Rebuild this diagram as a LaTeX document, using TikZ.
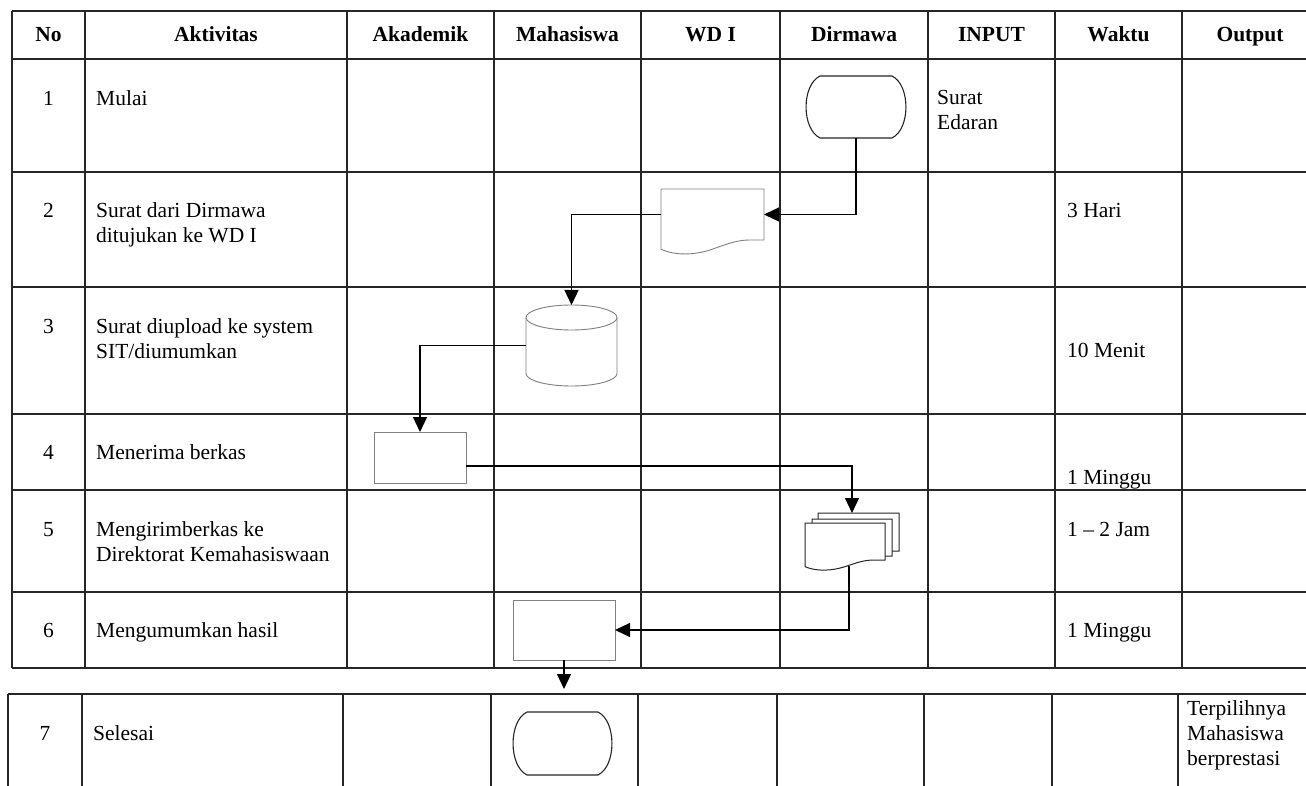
\documentclass[tikz,border=0pt]{standalone}
\usepackage{fontspec}
\setmainfont{Liberation Serif}
\usetikzlibrary{arrows.meta}
\newcommand\docshape[5][]{%
 \pgfmathsetmacro\dcw{#4-#2}\pgfmathsetmacro\dch{#5-#3}%
 \draw[#1] (#2,#5+0.18*\dch) -- (#2,#3) -- (#4,#3) -- (#4,#5) -- (#4-0.136*\dcw,#5)
   .. controls (#4-0.25*\dcw,#5) and (#4-0.34*\dcw,#5+0.06*\dch) .. (#2+0.5*\dcw,#5+0.18*\dch)
   .. controls (#2+0.33*\dcw,#5+0.3*\dch) and (#2+0.136*\dcw,#5+0.31*\dch) .. cycle;}
\newcommand\termshape[1]{%
 \draw[term] ([xshift=14pt]#1.north west) -- ([xshift=-14pt]#1.north east)
   .. controls ([xshift=4.6pt,yshift=-9pt]#1.north east) and ([xshift=4.6pt,yshift=9pt]#1.south east) .. ([xshift=-14pt]#1.south east)
   -- ([xshift=14pt]#1.south west)
   .. controls ([xshift=-4.6pt,yshift=9pt]#1.south west) and ([xshift=-4.6pt,yshift=-9pt]#1.north west) .. cycle;}
\begin{document}
\begin{tikzpicture}[x=1pt,y=-1pt,
  tbl/.style={line width=1.6pt, draw=black!85},
  conn/.style={line width=1.2pt, draw=black, -{Triangle[length=15pt,width=14pt]}},
  shp/.style={line width=0.9pt, draw=black!50},
  term/.style={line width=1.1pt, draw=black!85},
  spot/.style={inner sep=0pt, outer sep=0pt, minimum width=#1},
  hdr/.style={anchor=base, inner sep=0pt, font=\fontsize{21.5}{25}\selectfont\bfseries},
  txt/.style={anchor=base west, inner sep=0pt, align=left, font=\fontsize{21.5}{25}\selectfont},
  num/.style={anchor=base, inner sep=0pt, font=\fontsize{21.5}{25}\selectfont}]
\useasboundingbox (0,0) rectangle (1306,786);
\fill[white] (0,0) rectangle (1306,786);
\begin{scope}
\clip (0,0) rectangle (1306,786);
% upper table
\foreach \y in {11,59,172,287,414,490,592,668} \draw[tbl] (12,\y) -- (1320,\y);
\foreach \x in {12,85,347,494,641,780,928,1055,1182,1318} \draw[tbl] (\x,11) -- (\x,668);
% lower table
\draw[tbl] (8,694) -- (1320,694);
\foreach \x in {8,82,343,491,638,777,924,1052,1178} \draw[tbl] (\x,694) -- (\x,800);
\end{scope}
% headers
\node[hdr] (hNo) at (48.5,42) {No};
\node[hdr] (hAkt) at (216,42) {Aktivitas};
\node[hdr] (hAkad) at (420.5,42) {Akademik};
\node[hdr] (hMhs) at (567.5,42) {Mahasiswa};
\node[hdr] (hWD) at (710.5,42) {WD I};
\node[hdr] (hDir) at (854,42) {Dirmawa};
\node[hdr] (hIn) at (991.5,42) {INPUT};
\node[hdr] (hWkt) at (1118.5,42) {Waktu};
\node[hdr] (hOut) at (1250,42) {Output};
% rows (base anchor = baseline of the last line)
\node[num] (n1) at (48.5,106) {1};
\node[txt] (a1) at (96,106) {Mulai};
\node[txt] (i1) at (937,130) {Surat\\Edaran};
\node[num] (n2) at (48.5,218) {2};
\node[txt] (a2) at (96,243) {Surat dari Dirmawa\\ditujukan ke WD I};
\node[txt] (w2) at (1067,218) {3 Hari};
\node[num] (n3) at (48.5,333) {3};
\node[txt] (a3) at (96,358) {Surat diupload ke system\\SIT/diumumkan};
\node[txt] (w3) at (1067,357) {10 Menit};
\node[num] (n4) at (48.5,459.5) {4};
\node[txt] (a4) at (96,459.5) {Menerima berkas};
\node[txt] (w4) at (1067,484) {1 Minggu};
\node[num] (n5) at (48.5,536) {5};
\node[txt] (a5) at (96,561) {Mengirimberkas ke\\Direktorat Kemahasiswaan};
\node[txt] (w5) at (1067,536) {1 -- 2 Jam};
\node[num] (n6) at (48.5,637.5) {6};
\node[txt] (a6) at (96,637.5) {Mengumumkan hasil};
\node[txt] (w6) at (1067,637.5) {1 Minggu};
\node[num] (n7) at (45,740) {7};
\node[txt] (a7) at (93,740) {Selesai};
\node[txt] (o7) at (1187,765) {Terpilihnya\\Mahasiswa\\berprestasi};
% flow shapes
\node[spot=100pt, minimum height=62pt] (mulai) at (856,107) {};
\termshape{mulai}
\node[spot=103pt, minimum height=51pt] (docwd) at (712.5,214.5) {};
\docshape[shp]{661}{189}{764}{240}
\node[spot=91pt, minimum height=81pt] (cyl) at (571.5,345.5) {};
\draw[shp] (526,317.5) -- (526,373.5) arc[start angle=180,end angle=360,x radius=45.5pt,y radius=12.5pt] -- (617,317.5);
\draw[shp] (571.5,317.5) ellipse [x radius=45.5pt, y radius=12.5pt];
\node[spot=92pt, minimum height=51pt, shp, draw] (box4) at (420,457.5) {};
\node[spot=94pt, minimum height=47pt] (mdoc) at (852,536.5) {};
\docshape[term, line width=1pt, fill=white]{818}{513}{899}{551}
\docshape[term, line width=1pt, fill=white]{812}{519}{892}{556}
\docshape[term, line width=1pt, fill=white]{805}{523}{885}{560}
\coordinate (mdocout) at (849,566);
\node[spot=102pt, minimum height=60pt, shp, draw] (box6) at (564,630) {};
\node[spot=99pt, minimum height=63pt] (selesai) at (562.5,743.5) {};
\termshape{selesai}
\coordinate (endarr) at (564,689);
% connectors
\draw[conn] (mulai.south) |- (docwd.east);
\draw[conn] (docwd.west) -| (cyl.north);
\draw[conn] (cyl.west) -| (box4.north);
\draw[conn] ([yshift=-8.5pt]box4.east) -| (mdoc.north);
\draw[conn] (mdocout) |- (box6.east);
\draw[conn] (box6.south) -- (endarr);
\end{tikzpicture}
\end{document}
